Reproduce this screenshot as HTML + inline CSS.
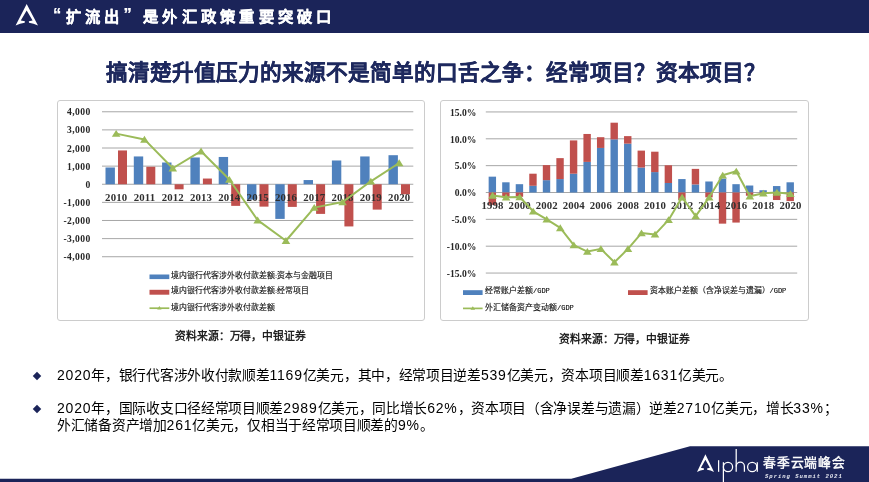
<!DOCTYPE html>
<html lang="zh-CN"><head><meta charset="utf-8"><title>slide</title>
<style>
html,body{margin:0;padding:0;}
body{width:869px;height:482px;position:relative;overflow:hidden;background:#fff;font-family:"Liberation Sans",sans-serif;}
.abs{position:absolute;white-space:nowrap;will-change:transform;}
#hdr{left:0;top:0;width:869px;height:32.9px;background:#1b2459;}
#htxt{left:45.5px;top:4.5px;color:#fff;font-weight:bold;-webkit-text-stroke:0.25px #fff;font-size:15.3px;letter-spacing:4.25px;line-height:22px;}
#title{left:105.5px;top:57.5px;color:#1e295e;font-weight:bold;-webkit-text-stroke:0.25px #1e295e;font-size:21.65px;line-height:30px;}
.q{display:inline-block;width:15.3px;letter-spacing:0;margin-right:4.4px;position:relative;top:-2.0px;font-size:16.5px;}
.box{border:1.8px solid #cccccc;border-radius:3px;box-sizing:border-box;background:#fff;}
svg{position:absolute;left:0;top:0;will-change:transform;}
.ax1{font-family:"Liberation Serif",serif;font-weight:bold;font-size:9.6px;letter-spacing:0.4px;fill:#262626;}
.ax2{font-family:"Liberation Serif",serif;font-weight:bold;font-size:9.6px;letter-spacing:0px;fill:#262626;}
.axx{font-family:"Liberation Serif",serif;font-weight:bold;font-size:10.8px;letter-spacing:0.12px;fill:#303030;}
.lg{font-family:"Liberation Sans",sans-serif;font-size:7.9px;fill:#111;stroke:#111;stroke-width:0.15px;}
.lgs{font-size:6px;}
.lgm{font-family:"Liberation Mono",monospace;font-size:7px;}
.src{font-weight:normal;-webkit-text-stroke:0.35px #111;font-size:10.8px;letter-spacing:-0.1px;color:#111;line-height:14px;}
.bl{font-size:13.8px;letter-spacing:-0.3px;line-height:17px;color:#000;left:57.1px;}
.n{font-size:14px;letter-spacing:0.8px;}
.dm{width:6px;height:6px;background:#1b2459;transform:rotate(45deg) ;}
#ftxt{left:763.3px;top:454.2px;color:#fff;font-weight:normal;-webkit-text-stroke:0.4px #fff;font-size:12.8px;letter-spacing:0.75px;line-height:18px;}
#fsub{left:765.2px;top:473.4px;color:#e8eaf2;font-family:"Liberation Mono",monospace;font-weight:bold;font-style:italic;font-size:5.6px;letter-spacing:0.96px;line-height:8px;}
</style></head><body>
<div id="hdr" class="abs"></div>
<div id="htxt" class="abs"><span class="q" style="text-align:right">“</span>扩流出<span class="q" style="text-align:left">”</span>是外汇政策重要突破口</div>
<div id="title" class="abs">搞清楚升值压力的来源不是简单的口舌之争：经常项目？资本项目？</div>
<div class="abs box" style="left:57px;top:100px;width:367.6px;height:221.1px;"></div>
<div class="abs box" style="left:440px;top:100px;width:369px;height:221.1px;"></div>
<svg width="869" height="482" viewBox="0 0 869 482">
<g>
<line x1="102.0" x2="413.3" y1="111.77" y2="111.77" stroke="#919191" stroke-width="0.8"/>
<text x="90.6" y="115.27" text-anchor="end" class="ax1">4,000</text>
<line x1="102.0" x2="413.3" y1="129.89" y2="129.89" stroke="#919191" stroke-width="0.8"/>
<text x="90.6" y="133.39" text-anchor="end" class="ax1">3,000</text>
<line x1="102.0" x2="413.3" y1="148.01" y2="148.01" stroke="#919191" stroke-width="0.8"/>
<text x="90.6" y="151.51" text-anchor="end" class="ax1">2,000</text>
<line x1="102.0" x2="413.3" y1="166.13" y2="166.13" stroke="#919191" stroke-width="0.8"/>
<text x="90.6" y="169.63" text-anchor="end" class="ax1">1,000</text>
<line x1="102.0" x2="413.3" y1="184.25" y2="184.25" stroke="#919191" stroke-width="0.8"/>
<text x="90.6" y="187.75" text-anchor="end" class="ax1">0</text>
<line x1="102.0" x2="413.3" y1="202.37" y2="202.37" stroke="#919191" stroke-width="0.8"/>
<text x="90.6" y="205.87" text-anchor="end" class="ax1">-1,000</text>
<line x1="102.0" x2="413.3" y1="220.49" y2="220.49" stroke="#919191" stroke-width="0.8"/>
<text x="90.6" y="223.99" text-anchor="end" class="ax1">-2,000</text>
<line x1="102.0" x2="413.3" y1="238.61" y2="238.61" stroke="#919191" stroke-width="0.8"/>
<text x="90.6" y="242.11" text-anchor="end" class="ax1">-3,000</text>
<line x1="102.0" x2="413.3" y1="256.73" y2="256.73" stroke="#919191" stroke-width="0.8"/>
<text x="90.6" y="260.23" text-anchor="end" class="ax1">-4,000</text>
<rect x="105.50" y="167.49" width="9.40" height="16.76" fill="#4f81bd"/>
<rect x="118.00" y="150.44" width="9.00" height="33.81" fill="#c0504d"/>
<rect x="133.80" y="156.45" width="9.40" height="27.80" fill="#4f81bd"/>
<rect x="146.30" y="166.75" width="9.00" height="17.50" fill="#c0504d"/>
<rect x="162.10" y="162.51" width="9.40" height="21.74" fill="#4f81bd"/>
<rect x="174.60" y="184.25" width="9.00" height="5.07" fill="#c0504d"/>
<rect x="190.40" y="157.47" width="9.40" height="26.78" fill="#4f81bd"/>
<rect x="202.90" y="178.54" width="9.00" height="5.71" fill="#c0504d"/>
<rect x="218.70" y="156.96" width="9.40" height="27.29" fill="#4f81bd"/>
<rect x="231.20" y="184.25" width="9.00" height="21.62" fill="#c0504d"/>
<rect x="247.00" y="184.25" width="9.40" height="15.40" fill="#4f81bd"/>
<rect x="259.50" y="184.25" width="9.00" height="22.38" fill="#c0504d"/>
<rect x="275.30" y="184.25" width="9.40" height="34.66" fill="#4f81bd"/>
<rect x="287.80" y="184.25" width="9.00" height="22.65" fill="#c0504d"/>
<rect x="303.60" y="180.05" width="9.40" height="4.20" fill="#4f81bd"/>
<rect x="316.10" y="184.25" width="9.00" height="29.64" fill="#c0504d"/>
<rect x="331.90" y="160.48" width="9.40" height="23.77" fill="#4f81bd"/>
<rect x="344.40" y="184.25" width="9.00" height="42.18" fill="#c0504d"/>
<rect x="360.20" y="156.45" width="9.40" height="27.80" fill="#4f81bd"/>
<rect x="372.70" y="184.25" width="9.00" height="25.37" fill="#c0504d"/>
<rect x="388.50" y="155.20" width="9.40" height="29.05" fill="#4f81bd"/>
<rect x="401.00" y="184.25" width="9.00" height="10.07" fill="#c0504d"/>
<text x="116.15" y="201.2" text-anchor="middle" class="axx">2010</text>
<text x="144.45" y="201.2" text-anchor="middle" class="axx">2011</text>
<text x="172.75" y="201.2" text-anchor="middle" class="axx">2012</text>
<text x="201.05" y="201.2" text-anchor="middle" class="axx">2013</text>
<text x="229.35" y="201.2" text-anchor="middle" class="axx">2014</text>
<text x="257.65" y="201.2" text-anchor="middle" class="axx">2015</text>
<text x="285.95" y="201.2" text-anchor="middle" class="axx">2016</text>
<text x="314.25" y="201.2" text-anchor="middle" class="axx">2017</text>
<text x="342.55" y="201.2" text-anchor="middle" class="axx">2018</text>
<text x="370.85" y="201.2" text-anchor="middle" class="axx">2019</text>
<text x="399.15" y="201.2" text-anchor="middle" class="axx">2020</text>
<polyline fill="none" stroke="#9bbb59" stroke-width="2.0" stroke-linejoin="round" points="116.15,133.64 144.45,139.40 172.75,168.25 201.05,151.20 229.35,179.54 257.65,220.16 285.95,240.73 314.25,207.62 342.55,202.10 370.85,181.30 399.15,162.98"/>
<polygon points="116.15,129.99 120.45,136.87 111.85,136.87" fill="#9bbb59"/>
<polygon points="144.45,135.75 148.75,142.63 140.15,142.63" fill="#9bbb59"/>
<polygon points="172.75,164.60 177.05,171.48 168.45,171.48" fill="#9bbb59"/>
<polygon points="201.05,147.54 205.35,154.42 196.75,154.42" fill="#9bbb59"/>
<polygon points="229.35,175.88 233.65,182.76 225.05,182.76" fill="#9bbb59"/>
<polygon points="257.65,216.51 261.95,223.39 253.35,223.39" fill="#9bbb59"/>
<polygon points="285.95,237.08 290.25,243.96 281.65,243.96" fill="#9bbb59"/>
<polygon points="314.25,203.97 318.55,210.85 309.95,210.85" fill="#9bbb59"/>
<polygon points="342.55,198.44 346.85,205.32 338.25,205.32" fill="#9bbb59"/>
<polygon points="370.85,177.64 375.15,184.52 366.55,184.52" fill="#9bbb59"/>
<polygon points="399.15,159.32 403.45,166.20 394.85,166.20" fill="#9bbb59"/>
<rect x="149.5" y="274.5" width="19.8" height="4.6" fill="#4f81bd"/>
<rect x="149.5" y="289.8" width="19.8" height="4.9" fill="#c0504d"/>
<line x1="149.5" x2="169.3" y1="308.2" y2="308.2" stroke="#9bbb59" stroke-width="1.7"/>
<polygon points="159.40,306.03 161.60,309.55 157.20,309.55" fill="#9bbb59"/>
<text x="171.2" y="277.9" class="lg">境内银行代客涉外收付款差额<tspan class="lgs">:</tspan>资本与金融项目</text>
<text x="171.2" y="293.4" class="lg">境内银行代客涉外收付款差额<tspan class="lgs">:</tspan>经常项目</text>
<text x="171.2" y="309.6" class="lg">境内银行代客涉外收付款差额</text>
</g>
<g>
<line x1="485.8" x2="797.2" y1="111.95" y2="111.95" stroke="#919191" stroke-width="0.8"/>
<text x="476.3" y="115.75" text-anchor="end" class="ax2">15.0%</text>
<line x1="485.8" x2="797.2" y1="138.80" y2="138.80" stroke="#919191" stroke-width="0.8"/>
<text x="476.3" y="142.60" text-anchor="end" class="ax2">10.0%</text>
<line x1="485.8" x2="797.2" y1="165.65" y2="165.65" stroke="#919191" stroke-width="0.8"/>
<text x="476.3" y="169.45" text-anchor="end" class="ax2">5.0%</text>
<line x1="485.8" x2="797.2" y1="192.50" y2="192.50" stroke="#919191" stroke-width="0.8"/>
<text x="476.3" y="196.30" text-anchor="end" class="ax2">0.0%</text>
<line x1="485.8" x2="797.2" y1="219.35" y2="219.35" stroke="#919191" stroke-width="0.8"/>
<text x="476.3" y="223.15" text-anchor="end" class="ax2">-5.0%</text>
<line x1="485.8" x2="797.2" y1="246.20" y2="246.20" stroke="#919191" stroke-width="0.8"/>
<text x="476.3" y="250.00" text-anchor="end" class="ax2">-10.0%</text>
<line x1="485.8" x2="797.2" y1="273.05" y2="273.05" stroke="#919191" stroke-width="0.8"/>
<text x="476.3" y="276.85" text-anchor="end" class="ax2">-15.0%</text>
<rect x="488.65" y="176.66" width="7.4" height="15.84" fill="#4f81bd"/>
<rect x="488.65" y="192.50" width="7.4" height="12.35" fill="#c0504d"/>
<rect x="502.19" y="182.30" width="7.4" height="10.20" fill="#4f81bd"/>
<rect x="502.19" y="192.50" width="7.4" height="4.83" fill="#c0504d"/>
<rect x="515.73" y="184.18" width="7.4" height="8.32" fill="#4f81bd"/>
<rect x="515.73" y="192.50" width="7.4" height="4.30" fill="#c0504d"/>
<rect x="529.27" y="185.79" width="7.4" height="6.71" fill="#4f81bd"/>
<rect x="529.27" y="173.70" width="7.4" height="12.08" fill="#c0504d"/>
<rect x="542.81" y="180.15" width="7.4" height="12.35" fill="#4f81bd"/>
<rect x="542.81" y="165.11" width="7.4" height="15.04" fill="#c0504d"/>
<rect x="556.35" y="179.07" width="7.4" height="13.43" fill="#4f81bd"/>
<rect x="556.35" y="158.13" width="7.4" height="20.94" fill="#c0504d"/>
<rect x="569.88" y="173.70" width="7.4" height="18.80" fill="#4f81bd"/>
<rect x="569.88" y="140.41" width="7.4" height="33.29" fill="#c0504d"/>
<rect x="583.42" y="161.89" width="7.4" height="30.61" fill="#4f81bd"/>
<rect x="583.42" y="133.97" width="7.4" height="27.92" fill="#c0504d"/>
<rect x="596.96" y="147.93" width="7.4" height="44.57" fill="#4f81bd"/>
<rect x="596.96" y="137.19" width="7.4" height="10.74" fill="#c0504d"/>
<rect x="610.50" y="139.34" width="7.4" height="53.16" fill="#4f81bd"/>
<rect x="610.50" y="122.69" width="7.4" height="16.65" fill="#c0504d"/>
<rect x="624.04" y="143.63" width="7.4" height="48.87" fill="#4f81bd"/>
<rect x="624.04" y="136.12" width="7.4" height="7.52" fill="#c0504d"/>
<rect x="637.58" y="167.53" width="7.4" height="24.97" fill="#4f81bd"/>
<rect x="637.58" y="150.61" width="7.4" height="16.92" fill="#c0504d"/>
<rect x="651.12" y="172.09" width="7.4" height="20.41" fill="#4f81bd"/>
<rect x="651.12" y="151.69" width="7.4" height="20.41" fill="#c0504d"/>
<rect x="664.66" y="183.00" width="7.4" height="9.50" fill="#4f81bd"/>
<rect x="664.66" y="165.27" width="7.4" height="17.72" fill="#c0504d"/>
<rect x="678.20" y="179.07" width="7.4" height="13.43" fill="#4f81bd"/>
<rect x="678.20" y="192.50" width="7.4" height="7.52" fill="#c0504d"/>
<rect x="691.74" y="184.44" width="7.4" height="8.06" fill="#4f81bd"/>
<rect x="691.74" y="168.87" width="7.4" height="15.57" fill="#c0504d"/>
<rect x="705.28" y="181.49" width="7.4" height="11.01" fill="#4f81bd"/>
<rect x="705.28" y="192.50" width="7.4" height="4.83" fill="#c0504d"/>
<rect x="718.82" y="178.54" width="7.4" height="13.96" fill="#4f81bd"/>
<rect x="718.82" y="192.50" width="7.4" height="31.15" fill="#c0504d"/>
<rect x="732.35" y="184.18" width="7.4" height="8.32" fill="#4f81bd"/>
<rect x="732.35" y="192.50" width="7.4" height="30.07" fill="#c0504d"/>
<rect x="745.89" y="185.52" width="7.4" height="6.98" fill="#4f81bd"/>
<rect x="745.89" y="192.50" width="7.4" height="3.22" fill="#c0504d"/>
<rect x="759.43" y="190.24" width="7.4" height="2.26" fill="#4f81bd"/>
<rect x="759.43" y="192.50" width="7.4" height="1.07" fill="#c0504d"/>
<rect x="772.97" y="186.06" width="7.4" height="6.44" fill="#4f81bd"/>
<rect x="772.97" y="192.50" width="7.4" height="7.52" fill="#c0504d"/>
<rect x="786.51" y="182.30" width="7.4" height="10.20" fill="#4f81bd"/>
<rect x="786.51" y="192.50" width="7.4" height="8.59" fill="#c0504d"/>
<text x="492.57" y="209.4" text-anchor="middle" class="axx">1998</text>
<text x="519.65" y="209.4" text-anchor="middle" class="axx">2000</text>
<text x="546.73" y="209.4" text-anchor="middle" class="axx">2002</text>
<text x="573.80" y="209.4" text-anchor="middle" class="axx">2004</text>
<text x="600.88" y="209.4" text-anchor="middle" class="axx">2006</text>
<text x="627.96" y="209.4" text-anchor="middle" class="axx">2008</text>
<text x="655.04" y="209.4" text-anchor="middle" class="axx">2010</text>
<text x="682.12" y="209.4" text-anchor="middle" class="axx">2012</text>
<text x="709.20" y="209.4" text-anchor="middle" class="axx">2014</text>
<text x="736.27" y="209.4" text-anchor="middle" class="axx">2016</text>
<text x="763.35" y="209.4" text-anchor="middle" class="axx">2018</text>
<text x="790.43" y="209.4" text-anchor="middle" class="axx">2020</text>
<polyline fill="none" stroke="#9bbb59" stroke-width="2.0" stroke-linejoin="round" points="492.57,195.45 506.11,197.33 519.65,197.06 533.19,211.30 546.73,219.35 560.27,227.94 573.80,245.13 587.34,251.57 600.88,248.88 614.42,262.31 627.96,248.88 641.50,233.04 655.04,234.39 668.58,219.89 682.12,197.33 695.66,216.13 709.20,197.33 722.73,175.32 736.27,171.29 749.81,196.26 763.35,193.31 776.89,192.50 790.43,193.84"/>
<polygon points="492.57,191.80 496.87,198.68 488.27,198.68" fill="#9bbb59"/>
<polygon points="506.11,193.68 510.41,200.56 501.81,200.56" fill="#9bbb59"/>
<polygon points="519.65,193.41 523.95,200.29 515.35,200.29" fill="#9bbb59"/>
<polygon points="533.19,207.64 537.49,214.52 528.89,214.52" fill="#9bbb59"/>
<polygon points="546.73,215.69 551.03,222.57 542.43,222.57" fill="#9bbb59"/>
<polygon points="560.27,224.29 564.57,231.17 555.97,231.17" fill="#9bbb59"/>
<polygon points="573.80,241.47 578.10,248.35 569.50,248.35" fill="#9bbb59"/>
<polygon points="587.34,247.91 591.64,254.79 583.04,254.79" fill="#9bbb59"/>
<polygon points="600.88,245.23 605.18,252.11 596.58,252.11" fill="#9bbb59"/>
<polygon points="614.42,258.66 618.72,265.54 610.12,265.54" fill="#9bbb59"/>
<polygon points="627.96,245.23 632.26,252.11 623.66,252.11" fill="#9bbb59"/>
<polygon points="641.50,229.39 645.80,236.27 637.20,236.27" fill="#9bbb59"/>
<polygon points="655.04,230.73 659.34,237.61 650.74,237.61" fill="#9bbb59"/>
<polygon points="668.58,216.23 672.88,223.11 664.28,223.11" fill="#9bbb59"/>
<polygon points="682.12,193.68 686.42,200.56 677.82,200.56" fill="#9bbb59"/>
<polygon points="695.66,212.47 699.96,219.35 691.36,219.35" fill="#9bbb59"/>
<polygon points="709.20,193.68 713.50,200.56 704.90,200.56" fill="#9bbb59"/>
<polygon points="722.73,171.66 727.03,178.54 718.43,178.54" fill="#9bbb59"/>
<polygon points="736.27,167.63 740.57,174.51 731.97,174.51" fill="#9bbb59"/>
<polygon points="749.81,192.60 754.11,199.48 745.51,199.48" fill="#9bbb59"/>
<polygon points="763.35,189.65 767.65,196.53 759.05,196.53" fill="#9bbb59"/>
<polygon points="776.89,188.84 781.19,195.72 772.59,195.72" fill="#9bbb59"/>
<polygon points="790.43,190.19 794.73,197.07 786.13,197.07" fill="#9bbb59"/>
<rect x="463" y="290.2" width="19.6" height="4.8" fill="#4f81bd"/>
<rect x="628" y="290.2" width="19.6" height="4.8" fill="#c0504d"/>
<line x1="463" x2="482.6" y1="308.4" y2="308.4" stroke="#9bbb59" stroke-width="1.7"/>
<polygon points="472.80,306.15 475.10,309.83 470.50,309.83" fill="#9bbb59"/>
<text x="485" y="293.3" class="lg">经常账户差额<tspan class="lgm">/GDP</tspan></text>
<text x="649.5" y="293.3" class="lg">资本账户差额（含净误差与遗漏）<tspan class="lgm">/GDP</tspan></text>
<text x="485" y="310.0" class="lg">外汇储备资产变动额<tspan class="lgm">/GDP</tspan></text>
</g>
<polygon points="0,478.7 571.3,478.7 690,446.2 869,446.2 869,482 0,482" fill="#1b2459"/>
<path d="M26.67,4 L38,25.4 Q33.5,23.2 29,22.7 L28.85,21.2 L32.6,20.5 L26.67,10.6 L20.76,20.5 L24.9,21.2 L24.7,22.7 Q20,23.2 15.6,25.4 Z" fill="#fff"/>
<g transform="translate(685.16,451.0) scale(0.759,0.822)">
<path d="M26.67,4 L38,25.4 Q33.5,23.2 29,22.7 L28.85,21.2 L32.6,20.5 L26.67,10.6 L20.76,20.5 L24.9,21.2 L24.7,22.7 Q20,23.2 15.6,25.4 Z" fill="#fff"/>
</g>
<g fill="none" stroke="#fff" stroke-width="1.25">
<line x1="718.6" x2="718.6" y1="460.2" y2="471.8"/>
<line x1="723.4" x2="723.4" y1="462.2" y2="482"/>
<circle cx="728" cy="467" r="4.6"/>
<line x1="736.2" x2="736.2" y1="449" y2="471.8"/>
<path d="M736.2,466.5 A4.1,4.3 0 0 1 744.4,466.5 L744.4,471.8"/>
<circle cx="752.2" cy="467" r="4.6"/>
<line x1="757.3" x2="757.3" y1="462.2" y2="471.8"/>
</g>
</svg>
<div class="abs src" style="left:175.2px;top:329px;">资料来源：万得，中银证券</div>
<div class="abs src" style="left:559.0px;top:331.6px;">资料来源：万得，中银证券</div>
<div class="abs dm" style="left:34.2px;top:373px;"></div>
<div class="abs dm" style="left:34.2px;top:406px;"></div>
<div class="abs bl" style="top:367px;"><span class="n">2020</span>年，银行代客涉外收付款顺差<span class="n">1169</span>亿美元，其中，经常项目逆差<span class="n">539</span>亿美元，资本项目顺差<span class="n">1631</span>亿美元。</div>
<div class="abs bl" style="top:400px;"><span class="n">2020</span>年，国际收支口径经常项目顺差<span class="n">2989</span>亿美元，同比增长<span class="n">62%</span>，资本项目（含净误差与遗漏）逆差<span class="n">2710</span>亿美元，增长<span class="n">33%</span>；<br>外汇储备资产增加<span class="n">261</span>亿美元，仅相当于经常项目顺差的<span class="n">9%</span>。</div>
<div id="ftxt" class="abs">春季云端峰会</div>
<div id="fsub" class="abs">Spring Summit 2021</div>
</body></html>
